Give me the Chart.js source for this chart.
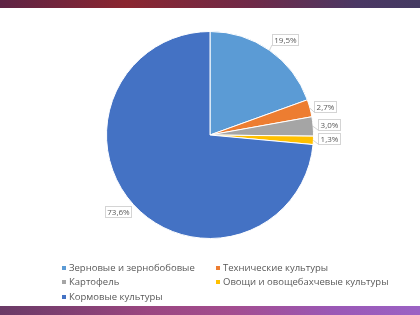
<!DOCTYPE html>
<html><head><meta charset="utf-8">
<script src="https://cdn.jsdelivr.net/npm/chart.js@4"></script>
<style>
html,body{margin:0;padding:0;background:#fff;overflow:hidden}
#wrap{position:relative;width:420px;height:315px}
#top{position:absolute;left:0;top:0;width:420px;height:8px;background:linear-gradient(90deg,#5e2445 0%,#8a2630 30%,#6f2a48 60%,#4b3864 85%,#443a62 100%)}
#bot{position:absolute;left:0;top:306px;width:420px;height:9px;background:linear-gradient(90deg,#6a3a66 0%,#9a4680 35%,#a34d8f 55%,#9a58b6 80%,#9b62c4 100%)}
canvas{position:absolute;left:0;top:0}
</style></head>
<body><div id="wrap"><canvas id="c" width="420" height="315"></canvas><div id="top"></div><div id="bot"></div></div>
<script>
const categories = ["Зерновые и зернобобовые","Технические культуры","Картофель","Овощи и овощебахчевые культуры","Кормовые культуры"];
const values = [19.5, 2.7, 3.0, 1.3, 73.6];
const valueLabels = ["19,5%","2,7%","3,0%","1,3%","73,6%"];
const colors = ["#5B9BD5","#ED7D31","#A5A5A5","#FFC000","#4472C4"];

const labelOffsets = [[16,-11],[15,-2],[16,-1.5],[16,-1.5],[-16,7]];
const legendPos = [[62,268],[216,268],[62,282],[216,282],[62,297]];

const labelPlugin = {
  id:'labels',
  afterDatasetsDraw(chart){
    const ctx = chart.ctx;
    const meta = chart.getDatasetMeta(0);
    ctx.save();
    ctx.font = '8px "Open Sans", "Liberation Sans", sans-serif';
    ctx.textAlign='center'; ctx.textBaseline='middle';
    meta.data.forEach((arc,i)=>{
      const mid = (arc.startAngle+arc.endAngle)/2;
      const ex = arc.x + Math.cos(mid)*arc.outerRadius;
      const ey = arc.y + Math.sin(mid)*arc.outerRadius;
      const lx = ex + labelOffsets[i][0], ly = ey + labelOffsets[i][1];
      const t = valueLabels[i];
      const w = Math.round(ctx.measureText(t).width + 4), h = 11;
      const bx = Math.round(lx-w/2), by = Math.round(ly-h/2);
      // leader line to nearest corner
      const ax = lx < ex ? bx + w : bx;
      const ay = ly < ey ? by + h : by;
      if (Math.hypot(ax-ex, ay-ey) > 3) {
        ctx.strokeStyle='#c8c8c8'; ctx.lineWidth=0.8;
        ctx.beginPath(); ctx.moveTo(ex,ey); ctx.lineTo(ax,ay); ctx.stroke();
      }
      ctx.fillStyle='#fff';
      ctx.fillRect(bx, by, w, h);
      ctx.strokeStyle='#d4d4d4'; ctx.lineWidth=1;
      ctx.strokeRect(bx+0.5, by+0.5, w, h);
      ctx.fillStyle='#595959';
      ctx.fillText(t, bx + w/2 + 0.5, by + h/2 + 1);
    });
    // legend
    ctx.textAlign='left';
    ctx.font = '9.5px "Open Sans", "Liberation Sans", sans-serif';
    categories.forEach((c,i)=>{
      const [x,y] = legendPos[i];
      ctx.fillStyle = colors[i];
      ctx.fillRect(x, y-2, 4, 4);
      ctx.fillStyle = '#595959';
      ctx.fillText(c, x+7, y);
    });
    ctx.restore();
  }
};

new Chart(document.getElementById('c'),{
  type:'pie',
  data:{labels:categories,datasets:[{data:values,backgroundColor:colors,borderColor:'#fff',borderWidth:1}]},
  options:{
    responsive:false,animation:false,
    layout:{padding:{top:31,bottom:76,left:60,right:60}},
    plugins:{legend:{display:false},tooltip:{enabled:false}}
  },
  plugins:[labelPlugin]
});
</script></body></html>
